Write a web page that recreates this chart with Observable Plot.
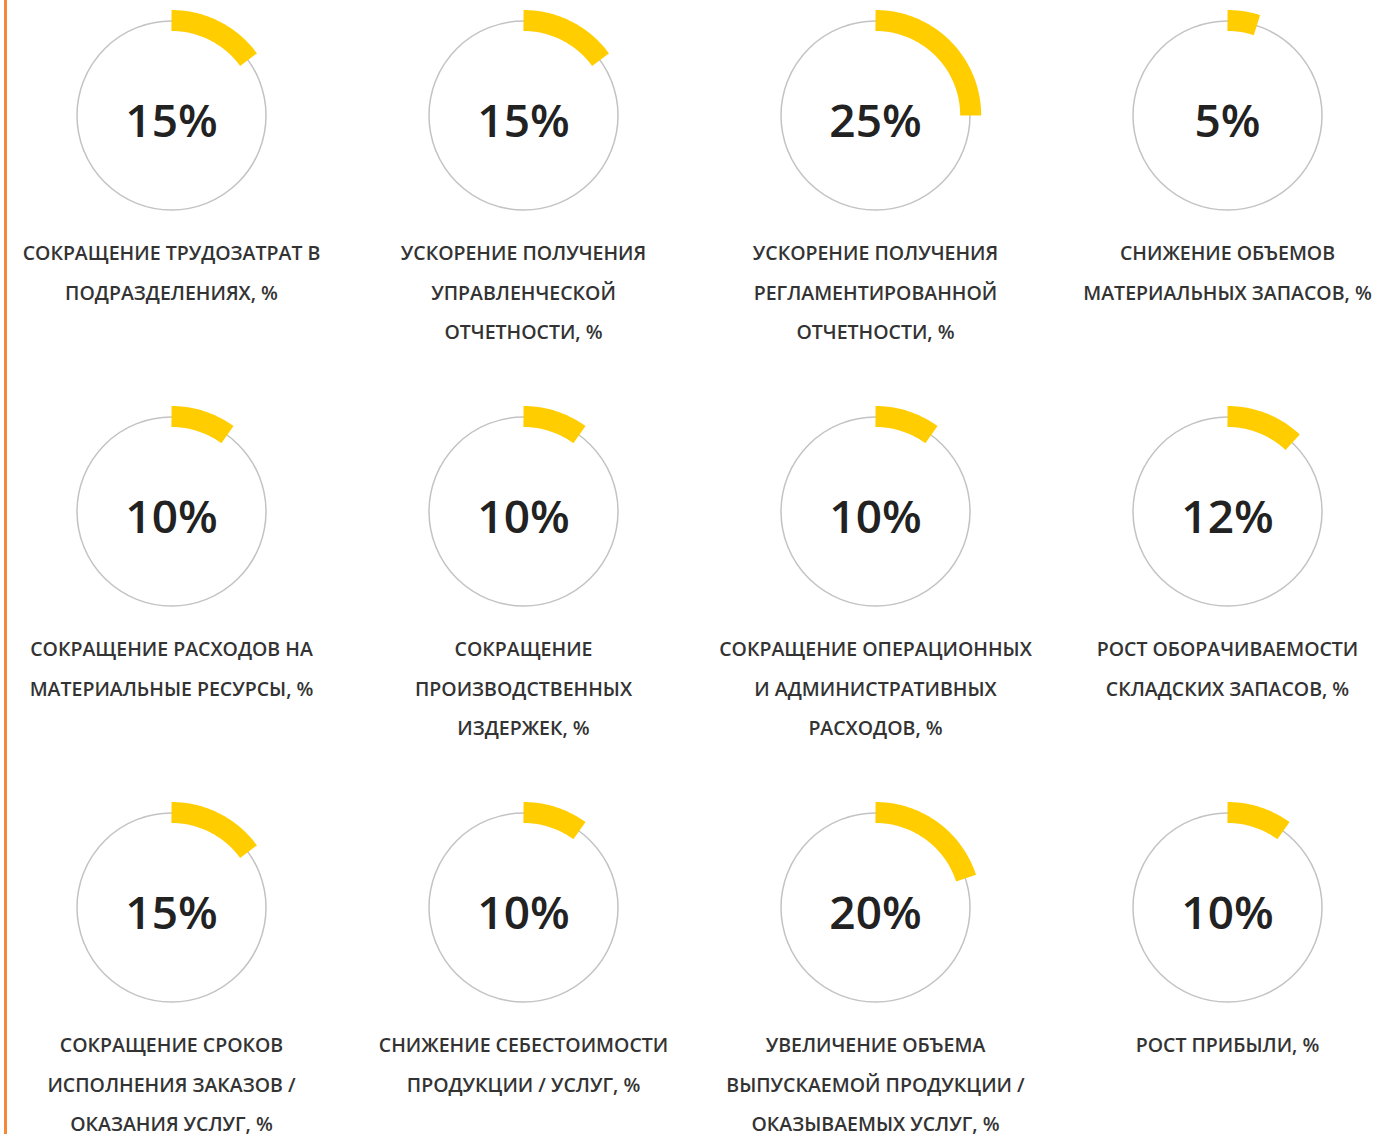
<!DOCTYPE html>
<html>
<head>
<meta charset="utf-8">
<script src="https://cdn.jsdelivr.net/npm/d3@7"></script>
<script src="https://cdn.jsdelivr.net/npm/@observablehq/plot@0.6"></script>
<style>
  html, body { margin: 0; padding: 0; background: #fff; }
  #wrap { position: relative; width: 1375px; height: 1134px; overflow: hidden; }
  #bar { position: absolute; left: 4px; top: 0; width: 3px; height: 1134px; background: #f28a3a; }
  #chart { position: absolute; left: 0; top: 0; }
</style>
</head>
<body>
<div id="wrap"><div id="bar"></div><div id="chart"></div></div>
<script>
const values = [15, 15, 25, 5, 10, 10, 10, 12, 15, 10, 20, 10];
const labels = [
  "СОКРАЩЕНИЕ ТРУДОЗАТРАТ В\nПОДРАЗДЕЛЕНИЯХ, %",
  "УСКОРЕНИЕ ПОЛУЧЕНИЯ\nУПРАВЛЕНЧЕСКОЙ\nОТЧЕТНОСТИ, %",
  "УСКОРЕНИЕ ПОЛУЧЕНИЯ\nРЕГЛАМЕНТИРОВАННОЙ\nОТЧЕТНОСТИ, %",
  "СНИЖЕНИЕ ОБЪЕМОВ\nМАТЕРИАЛЬНЫХ ЗАПАСОВ, %",
  "СОКРАЩЕНИЕ РАСХОДОВ НА\nМАТЕРИАЛЬНЫЕ РЕСУРСЫ, %",
  "СОКРАЩЕНИЕ\nПРОИЗВОДСТВЕННЫХ\nИЗДЕРЖЕК, %",
  "СОКРАЩЕНИЕ ОПЕРАЦИОННЫХ\nИ АДМИНИСТРАТИВНЫХ\nРАСХОДОВ, %",
  "РОСТ ОБОРАЧИВАЕМОСТИ\nСКЛАДСКИХ ЗАПАСОВ, %",
  "СОКРАЩЕНИЕ СРОКОВ\nИСПОЛНЕНИЯ ЗАКАЗОВ /\nОКАЗАНИЯ УСЛУГ, %",
  "СНИЖЕНИЕ СЕБЕСТОИМОСТИ\nПРОДУКЦИИ / УСЛУГ, %",
  "УВЕЛИЧЕНИЕ ОБЪЕМА\nВЫПУСКАЕМОЙ ПРОДУКЦИИ /\nОКАЗЫВАЕМЫХ УСЛУГ, %",
  "РОСТ ПРИБЫЛИ, %"
];
const columns = 4;

const gauges = values.map((v, i) => ({
  value: v, label: labels[i], col: i % columns, row: Math.floor(i / columns)
}));

// arc path points derived from each gauge value (unit circle, clockwise from top)
const arcPts = gauges.flatMap((g, i) => {
  const end = g.value / 100 * 2 * Math.PI;
  const n = Math.max(2, Math.ceil(g.value * 3.6));
  return d3.range(n + 1).map(k => {
    const t = end * k / n;
    return {id: i, col: g.col, row: g.row, x: Math.sin(t), y: Math.cos(t)};
  });
});

const unit = 95;           // pixels per unit radius
const xDom = [-1.25, 1.25];
const yDom = [-1.4, 1.2];
const bw = unit * (xDom[1] - xDom[0]);
const bh = unit * (yDom[1] - yDom[0]);
const stepX = 352, stepY = 396;

const plot = Plot.plot({
  width: 1375,
  height: 1134,
  marginLeft: 171 - bw / 2,
  marginRight: 1375 - (171 + 3 * stepX + bw / 2),
  marginTop: 115 - yDom[1] * unit,
  marginBottom: 1134 - (115 - yDom[1] * unit + 2 * stepY + bh),
  style: {background: "transparent", fontFamily: "'Open Sans', sans-serif"},
  fx: {axis: null, domain: [0, 1, 2, 3], paddingInner: 1 - bw / stepX, paddingOuter: 0},
  fy: {axis: null, domain: [0, 1, 2], paddingInner: 1 - bh / stepY, paddingOuter: 0},
  x: {axis: null, domain: xDom},
  y: {axis: null, domain: yDom},
  marks: [
    Plot.dot(gauges, {x: () => 0, y: () => 0, fx: "col", fy: "row", r: 94.5,
      stroke: "#c3c3c3", strokeWidth: 1.5, fill: "none"}),
    Plot.line(arcPts, {x: "x", y: "y", z: "id", fx: "col", fy: "row",
      stroke: "#ffcd00", strokeWidth: 21, strokeLinecap: "butt", strokeLinejoin: "round", curve: "linear"}),
    Plot.text(gauges, {x: () => 0, y: () => 0, fx: "col", fy: "row",
      text: d => d.value + "%", fontSize: 46, fill: "#222", dy: 7, fontWeight: 600}),
    Plot.text(gauges, {x: () => 0, y: () => -1.23, fx: "col", fy: "row",
      text: "label", lineAnchor: "top", lineHeight: 2.02, fontSize: 19.5, fontWeight: 600,
      fill: "#333"})
  ]
});
document.getElementById("chart").appendChild(plot);
</script>
</body>
</html>
